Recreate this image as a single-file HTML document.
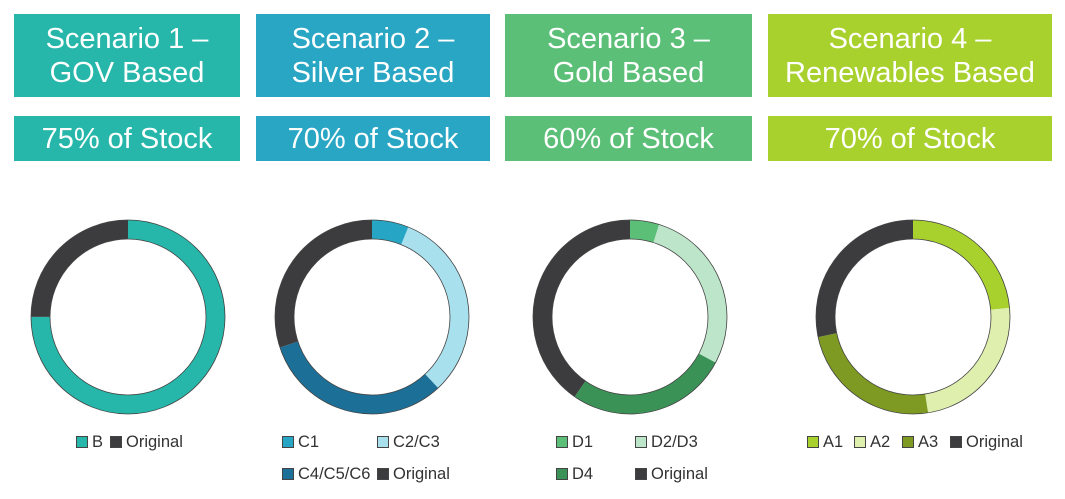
<!DOCTYPE html>
<html><head><meta charset="utf-8"><style>
body{margin:0;width:1065px;height:499px;background:#fff;position:relative;overflow:hidden;font-family:"Liberation Sans",sans-serif}
.b{position:absolute;color:#fff;text-align:center;font-size:29px;line-height:34px;display:flex;align-items:center;justify-content:center}
.l{position:absolute;font-size:16.5px;color:#333;line-height:18px}
.s{display:inline-block;width:10px;height:10px;border:1px solid #444;margin-right:4px;vertical-align:-1px}
</style></head><body>
<div class="b" style="left:14px;top:14px;width:226px;height:83px;background:#26b7aa">Scenario 1 –<br>GOV Based</div>
<div class="b" style="left:256px;top:14px;width:234px;height:83px;background:#28a6c4">Scenario 2 –<br>Silver Based</div>
<div class="b" style="left:505px;top:14px;width:247px;height:83px;background:#5cbf78">Scenario 3 –<br>Gold Based</div>
<div class="b" style="left:768px;top:14px;width:284px;height:83px;background:#a8d12d">Scenario 4 –<br>Renewables Based</div>
<div class="b" style="left:14px;top:116px;width:226px;height:45px;background:#26b7aa">75% of Stock</div>
<div class="b" style="left:256px;top:116px;width:234px;height:45px;background:#28a6c4">70% of Stock</div>
<div class="b" style="left:505px;top:116px;width:247px;height:45px;background:#5cbf78">60% of Stock</div>
<div class="b" style="left:768px;top:116px;width:284px;height:45px;background:#a8d12d">70% of Stock</div>
<svg width="1065" height="499" style="position:absolute;left:0;top:0" fill="none" stroke-width="19">
<g transform="translate(128,317) rotate(-90)">
<circle r="87.5" stroke="#26b7aa" stroke-dasharray="412.3 549.8"/>
<circle r="87.5" stroke="#3c3c3e" stroke-dasharray="137.4 549.8" stroke-dashoffset="-412.3"/></g>
<g transform="translate(372,317) rotate(-90)">
<circle r="87.5" stroke="#26a6c4" stroke-dasharray="33.6 549.8"/>
<circle r="87.5" stroke="#a8e0ee" stroke-dasharray="175.6 549.8" stroke-dashoffset="-33.6"/>
<circle r="87.5" stroke="#1c6f97" stroke-dasharray="175 549.8" stroke-dashoffset="-209.2"/>
<circle r="87.5" stroke="#3c3c3e" stroke-dasharray="165.6 549.8" stroke-dashoffset="-384.2"/></g>
<g transform="translate(630,317) rotate(-90)">
<circle r="87.5" stroke="#5cbf77" stroke-dasharray="26.7 549.8"/>
<circle r="87.5" stroke="#bde5c9" stroke-dasharray="153.5 549.8" stroke-dashoffset="-26.7"/>
<circle r="87.5" stroke="#3b9256" stroke-dasharray="147.7 549.8" stroke-dashoffset="-180.2"/>
<circle r="87.5" stroke="#3c3c3e" stroke-dasharray="221.9 549.8" stroke-dashoffset="-327.9"/></g>
<g transform="translate(913,317) rotate(-90)">
<circle r="87.5" stroke="#a8d12d" stroke-dasharray="129.2 549.8"/>
<circle r="87.5" stroke="#dfefad" stroke-dasharray="131.9 549.8" stroke-dashoffset="-129.2"/>
<circle r="87.5" stroke="#7e9a22" stroke-dasharray="132.8 549.8" stroke-dashoffset="-261.1"/>
<circle r="87.5" stroke="#3c3c3e" stroke-dasharray="155.9 549.8" stroke-dashoffset="-393.9"/></g>
<g stroke="#444" stroke-width="0.8">
<circle cx="128" cy="317" r="97"/><circle cx="128" cy="317" r="78"/>
<circle cx="372" cy="317" r="97"/><circle cx="372" cy="317" r="78"/>
<circle cx="630" cy="317" r="97"/><circle cx="630" cy="317" r="78"/>
<circle cx="913" cy="317" r="97"/><circle cx="913" cy="317" r="78"/>
</g>
</svg>
<div class="l" style="left:76px;top:433px"><span class="s" style="background:#26b7aa"></span>B</div>
<div class="l" style="left:110px;top:433px"><span class="s" style="background:#3c3c3e"></span>Original</div>
<div class="l" style="left:282px;top:433px"><span class="s" style="background:#26a6c4"></span>C1</div>
<div class="l" style="left:377px;top:433px"><span class="s" style="background:#a8e0ee"></span>C2/C3</div>
<div class="l" style="left:282px;top:465px"><span class="s" style="background:#1c6f97"></span>C4/C5/C6</div>
<div class="l" style="left:377px;top:465px"><span class="s" style="background:#3c3c3e"></span>Original</div>
<div class="l" style="left:556px;top:433px"><span class="s" style="background:#5cbf77"></span>D1</div>
<div class="l" style="left:635px;top:433px"><span class="s" style="background:#bde5c9"></span>D2/D3</div>
<div class="l" style="left:556px;top:465px"><span class="s" style="background:#3b9256"></span>D4</div>
<div class="l" style="left:635px;top:465px"><span class="s" style="background:#3c3c3e"></span>Original</div>
<div class="l" style="left:807px;top:433px"><span class="s" style="background:#a8d12d"></span>A1</div>
<div class="l" style="left:854px;top:433px"><span class="s" style="background:#dfefad"></span>A2</div>
<div class="l" style="left:902px;top:433px"><span class="s" style="background:#7e9a22"></span>A3</div>
<div class="l" style="left:950px;top:433px"><span class="s" style="background:#3c3c3e"></span>Original</div>
</body></html>
